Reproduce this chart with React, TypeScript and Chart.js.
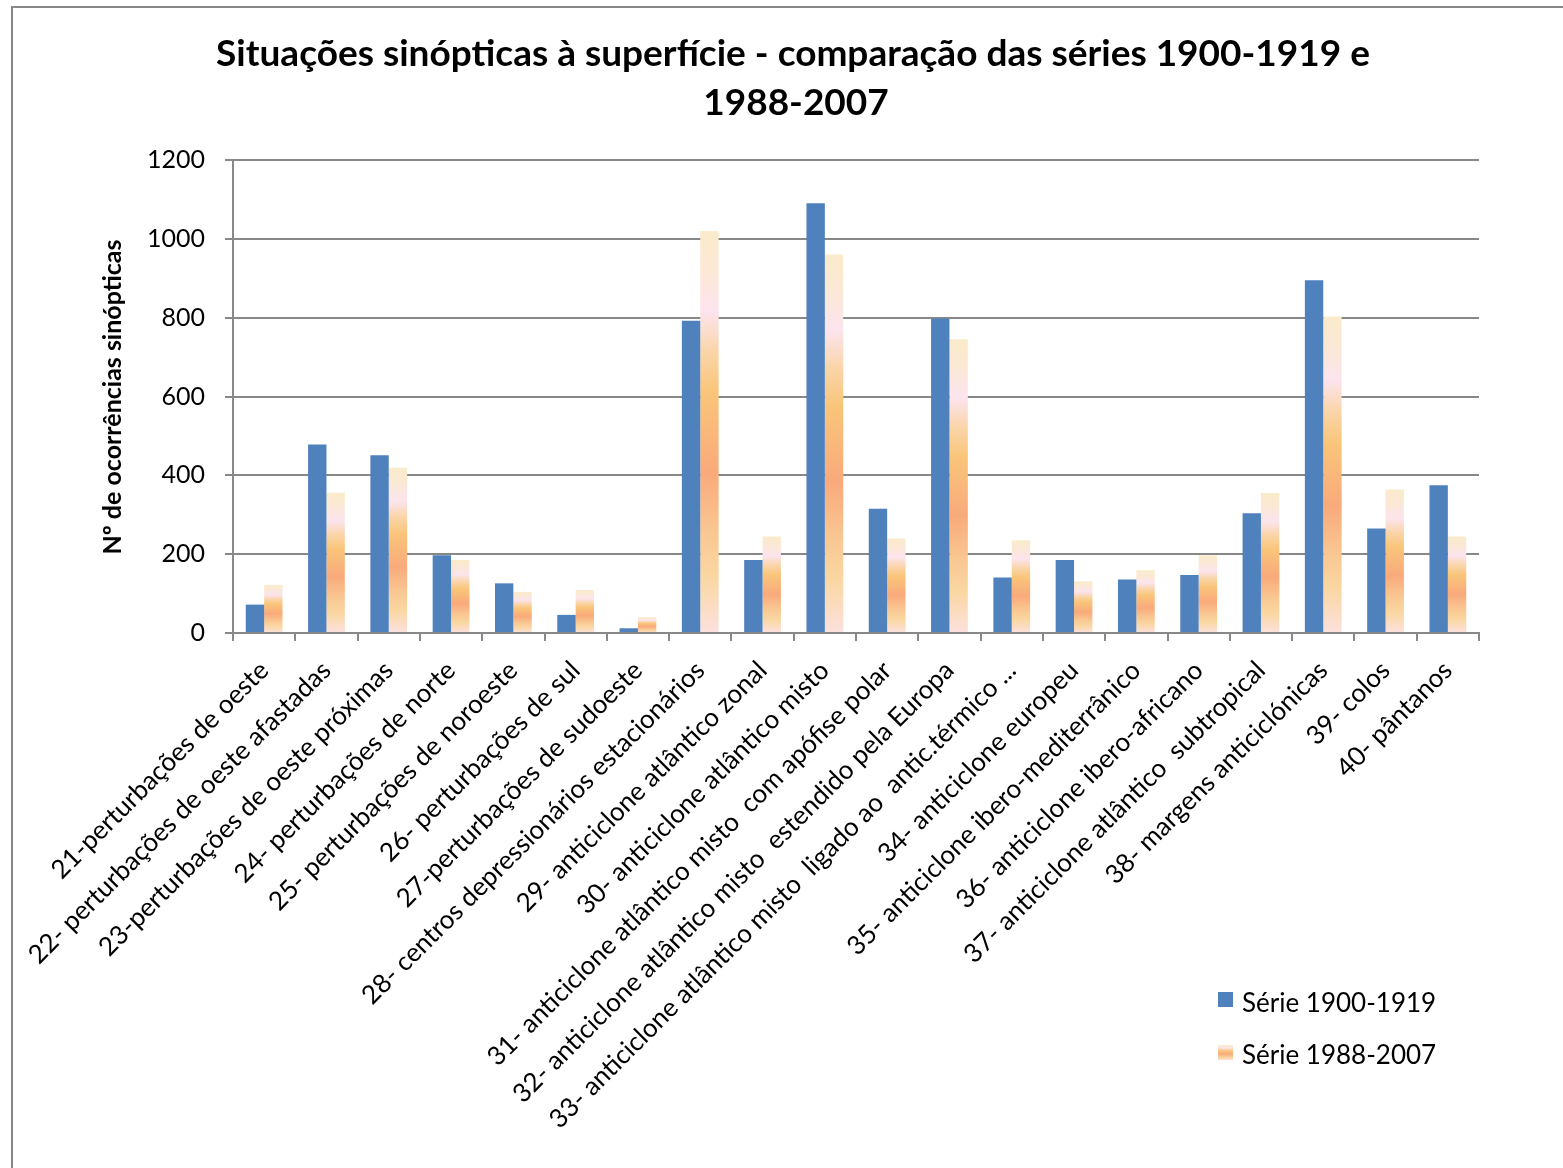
import React, { useEffect, useRef } from 'react';
import { Chart, registerables } from 'chart.js';

Chart.register(...registerables);

const categories = [
  '21-perturbações de oeste',
  '22- perturbações de oeste afastadas',
  '23-perturbações de oeste próximas',
  '24- perturbações de norte',
  '25- perturbações de noroeste',
  '26- perturbações de sul',
  '27-perturbações de sudoeste',
  '28- centros depressionários estacionários',
  '29- anticiclone atlântico zonal',
  '30- anticiclone atlântico misto',
  '31- anticiclone atlântico misto  com apófise polar',
  '32- anticiclone atlântico misto  estendido pela Europa',
  '33- anticiclone atlântico misto  ligado ao  antic.térmico ...',
  '34- anticiclone europeu',
  '35- anticiclone ibero-mediterrânico',
  '36- anticiclone ibero-africano',
  '37- anticiclone atlântico  subtropical',
  '38- margens anticiclónicas',
  '39- colos',
  '40- pântanos',
];

const serie1900 = [72, 478, 451, 197, 126, 46, 12, 792, 185, 1090, 315, 798, 141, 185, 136, 147, 304, 895, 265, 375];
const serie1988 = [122, 356, 419, 185, 104, 109, 40, 1020, 245, 960, 240, 745, 235, 131, 159, 197, 355, 803, 364, 245];

const seriesNames = ['Série 1900-1919', 'Série 1988-2007'];
const titleLines = ['Situações sinópticas à superfície - comparação das séries 1900-1919 e', '1988-2007'];
const yTitle = 'Nº de ocorrências sinópticas';
const yMin = 0;
const yMax = 1200;
const yStep = 200;

const FONT = 'Lato, "Open Sans", sans-serif';
const BLUE = '#4F81BD';
const GRID = '#888888';
const orangeStops: [number, string][] = [
  [0, '#FAEBCB'],
  [0.1, '#FBE8D6'],
  [0.2, '#FCE4EE'],
  [0.3, '#FAD5A9'],
  [0.4, '#F9C57A'],
  [0.6, '#F9AA7B'],
  [0.75, '#F9C792'],
  [0.86, '#FAD7A2'],
  [1, '#FCE1DE'],
];

function makeGradient(ctx: CanvasRenderingContext2D, top: number, bottom: number) {
  const g = ctx.createLinearGradient(0, top, 0, bottom);
  orangeStops.forEach(([o, c]) => g.addColorStop(o, c));
  return g;
}

const decorPlugin = {
  id: 'decor',
  beforeDraw(chart: any) {
    const ctx = chart.ctx as CanvasRenderingContext2D;
    ctx.save();
    ctx.fillStyle = '#ffffff';
    ctx.fillRect(0, 0, chart.width, chart.height);
    ctx.strokeStyle = '#878787';
    ctx.lineWidth = 2;
    ctx.beginPath();
    ctx.moveTo(12, chart.height);
    ctx.lineTo(12, 7);
    ctx.lineTo(chart.width, 7);
    ctx.stroke();
    ctx.restore();
  },
  afterDraw(chart: any) {
    const ctx = chart.ctx as CanvasRenderingContext2D;
    ctx.save();
    ctx.fillStyle = '#000';
    ctx.textAlign = 'center';
    ctx.textBaseline = 'alphabetic';
    ctx.font = `bold 37px ${FONT}`;
    ctx.fillText(titleLines[0], 793, 66);
    ctx.fillText(titleLines[1], 796, 115);

    ctx.save();
    ctx.translate(113, 397);
    ctx.rotate(-Math.PI / 2);
    ctx.font = `bold 25px ${FONT}`;
    ctx.textBaseline = 'middle';
    ctx.fillText(yTitle, 0, 0);
    ctx.restore();

    // legend
    ctx.textAlign = 'left';
    ctx.font = `26px ${FONT}`;
    ctx.fillStyle = BLUE;
    ctx.fillRect(1218, 992, 15, 15);
    ctx.fillStyle = makeGradient(ctx, 1045, 1060);
    ctx.fillRect(1218, 1045, 15, 15);
    ctx.fillStyle = '#000';
    ctx.fillText(seriesNames[0], 1242, 1012);
    ctx.fillText(seriesNames[1], 1242, 1064);
    ctx.restore();
  },
};

export default function App() {
  const ref = useRef<HTMLCanvasElement>(null);

  useEffect(() => {
    if (!ref.current) return;
    const chart = new Chart(ref.current, {
      type: 'bar',
      data: {
        labels: categories,
        datasets: [
          {
            label: seriesNames[0],
            data: serie1900,
            backgroundColor: BLUE,
            barPercentage: 1,
            categoryPercentage: 0.59,
          },
          {
            label: seriesNames[1],
            data: serie1988,
            backgroundColor: (c: any) => {
              const chart = c.chart;
              if (c.type !== 'data' || !chart.chartArea) return '#F9B27A';
              const y = chart.scales.y;
              const top = y.getPixelForValue(c.raw);
              const bottom = y.getPixelForValue(0);
              if (!isFinite(top) || !isFinite(bottom) || bottom - top < 1) return '#F9B27A';
              return makeGradient(chart.ctx, top, bottom);
            },
            barPercentage: 1,
            categoryPercentage: 0.59,
          },
        ],
      },
      options: {
        animation: false,
        responsive: false,
        devicePixelRatio: 1,
        layout: { padding: { top: 160, right: 84, bottom: 0, left: 0 } },
        plugins: {
          legend: { display: false },
          title: { display: false },
          tooltip: { enabled: false },
        },
        scales: {
          x: {
            grid: { drawOnChartArea: false, drawTicks: true, tickLength: 8, color: GRID, lineWidth: 2, offset: true },
            border: { display: true, color: GRID, width: 2 },
            ticks: {
              autoSkip: false,
              minRotation: 45,
              maxRotation: 45,
              color: '#000',
              font: { family: FONT, size: 26 },
              padding: 14,
            },
            afterFit: (s: any) => {
              s.height = 535;
            },
          },
          y: {
            min: yMin,
            max: yMax,
            ticks: {
              stepSize: yStep,
              color: '#000',
              font: { family: FONT, size: 25 },
              padding: 20,
              callback: (v: any) => String(v),
            },
            grid: { color: GRID, lineWidth: 2, tickLength: 8 },
            border: { color: GRID, width: 2 },
            afterFit: (s: any) => {
              s.width = 233;
            },
          },
        },
      },
      plugins: [decorPlugin],
    });
    return () => chart.destroy();
  }, []);

  return (
    <div style={{ position: 'fixed', left: 0, top: 0, width: 1563, height: 1168, background: '#fff' }}>
      <canvas ref={ref} width={1563} height={1168} style={{ display: 'block' }} />
    </div>
  );
}
